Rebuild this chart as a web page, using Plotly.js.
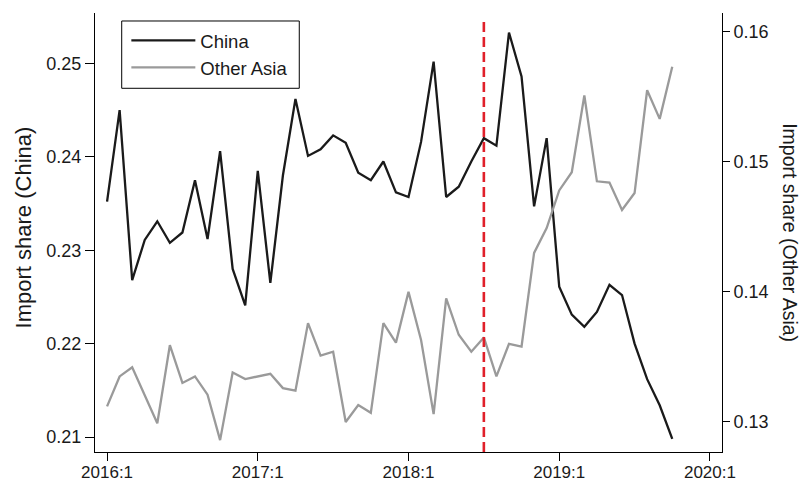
<!DOCTYPE html>
<html>
<head>
<meta charset="utf-8">
<script src="https://cdn.plot.ly/plotly-3.0.1.min.js"></script>
<style>html,body{margin:0;padding:0;background:#fff;}#chart{width:805px;height:481px;}</style>
</head>
<body>
<div id="chart"></div>
<script>
// Monthly labels 2016:1 .. 2019:10
var months = [
  '2016:1','2016:2','2016:3','2016:4','2016:5','2016:6','2016:7','2016:8','2016:9','2016:10','2016:11','2016:12',
  '2017:1','2017:2','2017:3','2017:4','2017:5','2017:6','2017:7','2017:8','2017:9','2017:10','2017:11','2017:12',
  '2018:1','2018:2','2018:3','2018:4','2018:5','2018:6','2018:7','2018:8','2018:9','2018:10','2018:11','2018:12',
  '2019:1','2019:2','2019:3','2019:4','2019:5','2019:6','2019:7','2019:8','2019:9','2019:10'
];
var china = [0.2352,0.2450,0.2268,0.2311,0.2331,0.2308,0.2319,0.2375,0.2312,0.2406,0.2280,0.2241,
  0.2385,0.2265,0.2380,0.2462,0.2401,0.2408,0.2423,0.2415,0.2383,0.2375,0.2395,0.2362,
  0.2357,0.2416,0.2502,0.2357,0.2368,0.2395,0.2420,0.2412,0.2533,0.2486,0.2347,0.2420,
  0.2261,0.2231,0.2218,0.2234,0.2263,0.2252,0.2200,0.2162,0.2134,0.2098];
var otherAsia = [0.1312,0.1335,0.1342,0.1321,0.1299,0.1359,0.1330,0.1335,0.1321,0.1286,0.1338,0.1333,
  0.1335,0.1337,0.1326,0.1324,0.1376,0.1351,0.1354,0.1300,0.1313,0.1307,0.1376,0.1361,
  0.1400,0.1363,0.1306,0.1395,0.1367,0.1354,0.1365,0.1335,0.1360,0.1358,0.1430,0.1449,
  0.1478,0.1492,0.1551,0.1485,0.1484,0.1463,0.1476,0.1555,0.1533,0.1573];
var xTickLabels = ['2016:1','2017:1','2018:1','2019:1','2020:1'];
var yLeftTicks = [0.21,0.22,0.23,0.24,0.25];
var yRightTicks = [0.13,0.14,0.15,0.16];
var eventMonth = '2018:7';

function monthIndex(lbl){
  var p = lbl.split(':');
  return (parseInt(p[0],10)-2016)*12 + parseInt(p[1],10)-1;
}
var x = months.map(monthIndex);
var FONT = 'Liberation Sans, Arial, Helvetica, sans-serif';

var traces = [
  {x:x, y:china, name:'China', type:'scatter', mode:'lines',
   line:{color:'#1a1a1a', width:2.3}, yaxis:'y'},
  {x:x, y:otherAsia, name:'Other Asia', type:'scatter', mode:'lines',
   line:{color:'#9a9a9a', width:2.3}, yaxis:'y2'}
];

var axisCommon = {showgrid:false, zeroline:false, showline:true, linecolor:'#000', linewidth:1,
  ticks:'outside', tickcolor:'#000', tickwidth:1, tickfont:{family:FONT, size:18, color:'#1a1a1a'}};

var layout = {
  width:805, height:481,
  margin:{l:95, r:83, t:13, b:29, autoexpand:false},
  paper_bgcolor:'#fff', plot_bgcolor:'#fff',
  font:{family:FONT, color:'#1a1a1a'},
  showlegend:true,
  legend:{x:0.05, y:0.980, xanchor:'left', yanchor:'top', bgcolor:'rgba(0,0,0,0)', borderwidth:0,
    font:{family:FONT, size:18.5, color:'#1a1a1a'}, itemwidth:64},
  xaxis:Object.assign({}, axisCommon, {range:[-0.96,48.96], tickvals:xTickLabels.map(monthIndex), ticktext:xTickLabels, ticklen:8,
    ticklabelstandoff:-3, tickfont:{family:FONT, size:17, color:'#1a1a1a'}}),
  yaxis:Object.assign({}, axisCommon, {range:[0.2084,0.2554], tickvals:yLeftTicks, ticktext:yLeftTicks.map(function(v){return v.toFixed(2);}), ticklen:9}),
  yaxis2:Object.assign({}, axisCommon, {overlaying:'y', side:'right', range:[0.12769,0.16144], tickvals:yRightTicks, ticktext:yRightTicks.map(function(v){return v.toFixed(2);}), ticklen:7}),
  shapes:[
    {type:'rect', xref:'paper', yref:'paper', x0:0.0426, x1:0.3258, y0:0.8285, y1:0.9818,
     line:{color:'#000', width:1}, fillcolor:'rgba(0,0,0,0)', layer:'above'},
    {type:'line', xref:'x', yref:'paper', x0:monthIndex(eventMonth), x1:monthIndex(eventMonth), y0:0, y1:0.984,
     line:{color:'#e0202a', width:2.6, dash:'10px,5px'}}],
  annotations:[
    {text:'Import share (China)', textangle:-90, xref:'paper', yref:'paper', x:-0.1142, y:0.5125, xanchor:'center', yanchor:'middle',
     showarrow:false, font:{family:FONT, size:22, color:'#1a1a1a'}},
    {text:'Import share (Other Asia)', textangle:90, xref:'paper', yref:'paper', x:1.109, y:0.5, xanchor:'center', yanchor:'middle',
     showarrow:false, font:{family:FONT, size:19.5, color:'#1a1a1a'}}]
};
Plotly.newPlot('chart', traces, layout, {staticPlot:true, displayModeBar:false});
</script>
</body>
</html>
